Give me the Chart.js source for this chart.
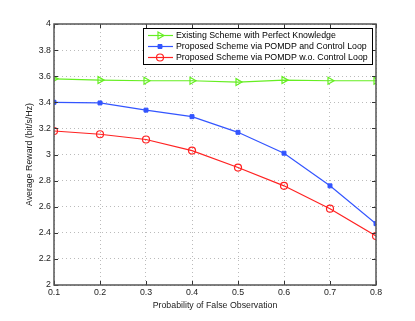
<!DOCTYPE html>
<html>
<head>
<meta charset="utf-8">
<script src="https://cdn.jsdelivr.net/npm/chart.js@4"></script>
<style>
  html, body { margin: 0; padding: 0; background: #fff; }
  #wrap { width: 415px; height: 321px; }
</style>
</head>
<body>
<div id="wrap"><canvas id="myChart" width="415" height="321"></canvas></div>
<script>
const probs = [0.1, 0.2, 0.3, 0.4, 0.5, 0.6, 0.7, 0.8];
const existing = [3.58, 3.57, 3.565, 3.565, 3.555, 3.57, 3.565, 3.565];
const withLoop = [3.40, 3.395, 3.34, 3.29, 3.17, 3.01, 2.76, 2.47];
const withoutLoop = [3.18, 3.155, 3.115, 3.03, 2.90, 2.76, 2.585, 2.375];
const seriesNames = [
  'Existing Scheme with Perfect Knowledge',
  'Proposed Scheme via POMDP and Control Loop',
  'Proposed Scheme via POMDP w.o. Control Loop'
];

const font = "'Liberation Sans', Arial, sans-serif";
const fontSize = 8.8;

function pts(ys) {
  return probs.map((x, i) => ({ x: x, y: ys[i] }));
}

// box round the axes, inner tick marks and the legend, Matlab style
const matlabBox = {
  id: 'matlabBox',
  afterDraw(chart) {
    const c = chart.ctx;
    const a = chart.chartArea;
    const xs = chart.scales.x, ys = chart.scales.y;
    c.save();
    c.strokeStyle = '#333';
    c.lineWidth = 1;
    c.beginPath();
    xs.ticks.forEach(t => {
      const px = Math.round(xs.getPixelForValue(t.value)) + 0.5;
      c.moveTo(px, a.bottom); c.lineTo(px, a.bottom - 4);
      c.moveTo(px, a.top); c.lineTo(px, a.top + 4);
    });
    ys.ticks.forEach(t => {
      const py = Math.round(ys.getPixelForValue(t.value)) + 0.5;
      c.moveTo(a.left, py); c.lineTo(a.left + 4, py);
      c.moveTo(a.right, py); c.lineTo(a.right - 4, py);
    });
    c.stroke();
    c.strokeStyle = '#555';
    c.lineWidth = 1.5;
    c.strokeRect(a.left, a.top, a.right - a.left, a.bottom - a.top);

    // legend
    const lx = 143, ly = 28, lw = 229, lh = 36;
    c.fillStyle = '#fff';
    c.fillRect(lx, ly, lw, lh);
    c.strokeStyle = '#000';
    c.lineWidth = 1;
    c.strokeRect(lx + 0.5, ly + 0.5, lw, lh);
    c.font = fontSize + 'px ' + font;
    c.textBaseline = 'middle';
    c.textAlign = 'left';
    chart.data.datasets.forEach((ds, i) => {
      const y = ly + 7.5 + i * 11;
      c.strokeStyle = ds.borderColor;
      c.lineWidth = 1.2;
      c.beginPath(); c.moveTo(lx + 5, y); c.lineTo(lx + 30, y); c.stroke();
      c.fillStyle = ds.pointBackgroundColor;
      c.strokeStyle = ds.pointBorderColor;
      c.lineWidth = ds.pointBorderWidth;
      Chart.helpers.drawPoint(c, {
        pointStyle: ds.pointStyle, rotation: ds.pointRotation || 0,
        radius: ds.pointRadius, borderWidth: ds.pointBorderWidth
      }, lx + 17, y);
      c.fillStyle = '#000';
      c.fillText(ds.label, lx + 33, y + 0.5);
    });
    c.restore();
  }
};

const ctx = document.getElementById('myChart');

new Chart(ctx, {
  type: 'line',
  data: {
    datasets: [{
      label: seriesNames[0],
      data: pts(existing),
      borderColor: '#66ee22',
      backgroundColor: '#66ee22',
      pointBackgroundColor: 'rgba(0,0,0,0)',
      pointBorderColor: '#66ee22',
      pointStyle: 'triangle',
      pointRotation: 90,
      pointRadius: 4,
      pointBorderWidth: 1.2,
      borderWidth: 1.2,
      tension: 0
    }, {
      label: seriesNames[1],
      data: pts(withLoop),
      borderColor: '#3355ff',
      backgroundColor: '#3355ff',
      pointBackgroundColor: '#3355ff',
      pointBorderColor: '#3355ff',
      pointStyle: 'rect',
      pointRadius: 2.8,
      pointBorderWidth: 1,
      borderWidth: 1.2,
      tension: 0
    }, {
      label: seriesNames[2],
      data: pts(withoutLoop),
      borderColor: '#ff2222',
      backgroundColor: '#ff2222',
      pointBackgroundColor: 'rgba(0,0,0,0)',
      pointBorderColor: '#ff2222',
      pointStyle: 'circle',
      pointRadius: 3.5,
      pointBorderWidth: 1.2,
      borderWidth: 1.2,
      tension: 0
    }]
  },
  plugins: [matlabBox],
  options: {
    responsive: false,
    animation: false,
    layout: { padding: { left: 24, right: 39, top: 24, bottom: 10 } },
    plugins: {
      legend: { display: false },
      tooltip: { enabled: false }
    },
    scales: {
      x: {
        type: 'linear',
        min: 0.1,
        max: 0.8,
        afterFit: s => { s.height = 26; },
        ticks: {
          stepSize: 0.1,
          color: '#222',
          padding: 2,
          font: { family: font, size: fontSize },
          callback: v => v.toFixed(1)
        },
        grid: { color: '#bbb', drawTicks: false },
        border: { display: false, dash: [1, 3] },
        title: {
          display: true,
          text: 'Probability of False Observation',
          color: '#222',
          padding: { top: 2, bottom: 0 },
          font: { family: font, size: fontSize }
        }
      },
      y: {
        min: 2,
        max: 4,
        afterFit: s => { s.width = 30; },
        ticks: {
          stepSize: 0.2,
          color: '#222',
          padding: 3,
          font: { family: font, size: fontSize },
          callback: v => (Math.round(v * 10) / 10).toString()
        },
        grid: { color: '#bbb', drawTicks: false },
        border: { display: false, dash: [1, 3] },
        title: {
          display: true,
          text: 'Average Reward (bit/s/Hz)',
          color: '#222',
          padding: { top: 0, bottom: 1 },
          font: { family: font, size: fontSize }
        }
      }
    }
  }
});
</script>
</body>
</html>
